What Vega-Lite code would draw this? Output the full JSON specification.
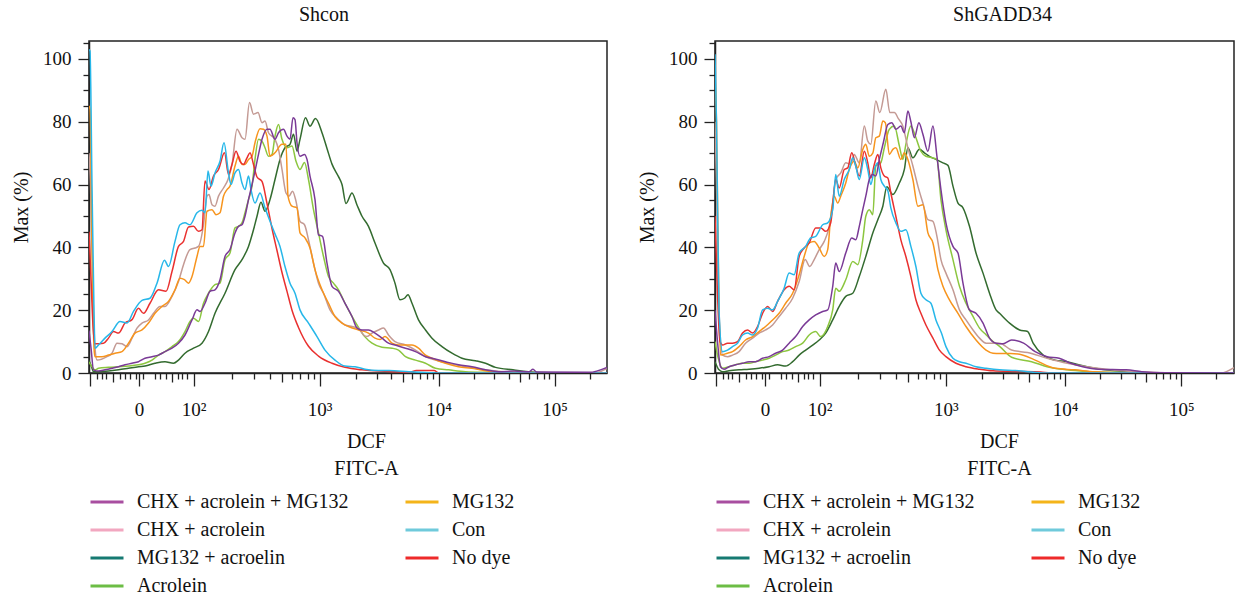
{
"$schema": "https://vega.github.io/schema/vega-lite/v6.json",
"padding": {"left": 10, "top": 4, "right": 0, "bottom": 0},
"config": {
 "font": "Liberation Serif, Times New Roman, Tinos, DejaVu Serif, serif",
 "view": {"stroke": "#222", "strokeWidth": 1.5},
 "axis": {"grid": false, "domainColor": "#222", "domainWidth": 1.5, "tickColor": "#222", "tickWidth": 1.3, "labelColor": "#111", "titleColor": "#111", "labelFont": "Liberation Serif, Times New Roman, Tinos, DejaVu Serif, serif", "titleFont": "Liberation Serif, Times New Roman, Tinos, DejaVu Serif, serif", "labelFontSize": 19, "titleFontSize": 20, "titleFontWeight": "normal"},
 "title": {"font": "Liberation Serif, Times New Roman, Tinos, DejaVu Serif, serif", "fontSize": 20, "fontWeight": "normal", "color": "#111"},
 "legend": {"labelFont": "Liberation Serif, Times New Roman, Tinos, DejaVu Serif, serif", "labelFontSize": 20, "labelColor": "#111"}
},
"datasets": {
"shcon": [
{"s":"MG132 + acroelin","c":0,"y":4},{"s":"MG132 + acroelin","c":5,"y":2},{"s":"MG132 + acroelin","c":9,"y":0.4},{"s":"MG132 + acroelin","c":19,"y":0.4},{"s":"MG132 + acroelin","c":39,"y":0.6},{"s":"MG132 + acroelin","c":59,"y":1.0},{"s":"MG132 + acroelin","c":79,"y":1.5},{"s":"MG132 + acroelin","c":99,"y":2.0},{"s":"MG132 + acroelin","c":112,"y":2.2},{"s":"MG132 + acroelin","c":132,"y":3.1},{"s":"MG132 + acroelin","c":152,"y":3.6},{"s":"MG132 + acroelin","c":169,"y":3.1},{"s":"MG132 + acroelin","c":179,"y":4.1},{"s":"MG132 + acroelin","c":192,"y":6.3},{"s":"MG132 + acroelin","c":209,"y":7.9},{"s":"MG132 + acroelin","c":226,"y":9.5},{"s":"MG132 + acroelin","c":239,"y":13.2},{"s":"MG132 + acroelin","c":252,"y":19.0},{"s":"MG132 + acroelin","c":272,"y":25.4},{"s":"MG132 + acroelin","c":292,"y":32.9},{"s":"MG132 + acroelin","c":306,"y":36.1},{"s":"MG132 + acroelin","c":319,"y":40.3},{"s":"MG132 + acroelin","c":329,"y":45.6},{"s":"MG132 + acroelin","c":336,"y":49.9},{"s":"MG132 + acroelin","c":344,"y":54.4},{"s":"MG132 + acroelin","c":352,"y":51.5},{"s":"MG132 + acroelin","c":362,"y":55.2},{"s":"MG132 + acroelin","c":372,"y":61.6},{"s":"MG132 + acroelin","c":382,"y":68.0},{"s":"MG132 + acroelin","c":392,"y":71.7},{"s":"MG132 + acroelin","c":402,"y":72.8},{"s":"MG132 + acroelin","c":409,"y":76.0},{"s":"MG132 + acroelin","c":416,"y":70.6},{"s":"MG132 + acroelin","c":422,"y":74.4},{"s":"MG132 + acroelin","c":433,"y":81.3},{"s":"MG132 + acroelin","c":442,"y":78.6},{"s":"MG132 + acroelin","c":453,"y":81.0},{"s":"MG132 + acroelin","c":466,"y":76.5},{"s":"MG132 + acroelin","c":476,"y":71.5},{"s":"MG132 + acroelin","c":486,"y":66.5},{"s":"MG132 + acroelin","c":499,"y":62.5},{"s":"MG132 + acroelin","c":506,"y":60},{"s":"MG132 + acroelin","c":514,"y":54},{"s":"MG132 + acroelin","c":526,"y":57.3},{"s":"MG132 + acroelin","c":536,"y":53.5},{"s":"MG132 + acroelin","c":546,"y":49.9},{"s":"MG132 + acroelin","c":559,"y":46.7},{"s":"MG132 + acroelin","c":572,"y":41.4},{"s":"MG132 + acroelin","c":589,"y":35.0},{"s":"MG132 + acroelin","c":602,"y":32.9},{"s":"MG132 + acroelin","c":612,"y":28.6},{"s":"MG132 + acroelin","c":622,"y":23.3},{"s":"MG132 + acroelin","c":631,"y":23.8},{"s":"MG132 + acroelin","c":638,"y":24.9},{"s":"MG132 + acroelin","c":646,"y":22.2},{"s":"MG132 + acroelin","c":659,"y":16.9},{"s":"MG132 + acroelin","c":673,"y":13.7},{"s":"MG132 + acroelin","c":686,"y":11.1},{"s":"MG132 + acroelin","c":706,"y":8.4},{"s":"MG132 + acroelin","c":726,"y":6.3},{"s":"MG132 + acroelin","c":746,"y":4.7},{"s":"MG132 + acroelin","c":773,"y":3.9},{"s":"MG132 + acroelin","c":793,"y":3.1},{"s":"MG132 + acroelin","c":813,"y":1.8},{"s":"MG132 + acroelin","c":848,"y":1.0},{"s":"MG132 + acroelin","c":879,"y":0.4},{"s":"MG132 + acroelin","c":920,"y":0.1},{"s":"MG132 + acroelin","c":1036,"y":0},
{"s":"Acrolein","c":0,"y":3.5},{"s":"Acrolein","c":6,"y":2},{"s":"Acrolein","c":12,"y":1.0},{"s":"Acrolein","c":19,"y":1.5},{"s":"Acrolein","c":39,"y":1.8},{"s":"Acrolein","c":59,"y":2.0},{"s":"Acrolein","c":79,"y":2.2},{"s":"Acrolein","c":99,"y":2.6},{"s":"Acrolein","c":112,"y":3.1},{"s":"Acrolein","c":126,"y":4.1},{"s":"Acrolein","c":139,"y":5.7},{"s":"Acrolein","c":152,"y":6.8},{"s":"Acrolein","c":166,"y":8.4},{"s":"Acrolein","c":179,"y":10.0},{"s":"Acrolein","c":192,"y":13.2},{"s":"Acrolein","c":202,"y":16.4},{"s":"Acrolein","c":209,"y":17.4},{"s":"Acrolein","c":219,"y":16.4},{"s":"Acrolein","c":229,"y":22.2},{"s":"Acrolein","c":239,"y":25.4},{"s":"Acrolein","c":252,"y":28.1},{"s":"Acrolein","c":262,"y":28.6},{"s":"Acrolein","c":272,"y":36.1},{"s":"Acrolein","c":282,"y":38.2},{"s":"Acrolein","c":292,"y":46.2},{"s":"Acrolein","c":299,"y":46.7},{"s":"Acrolein","c":306,"y":47.8},{"s":"Acrolein","c":312,"y":51.0},{"s":"Acrolein","c":319,"y":55.2},{"s":"Acrolein","c":326,"y":59.5},{"s":"Acrolein","c":332,"y":68.0},{"s":"Acrolein","c":339,"y":74.4},{"s":"Acrolein","c":346,"y":73.8},{"s":"Acrolein","c":352,"y":71.7},{"s":"Acrolein","c":359,"y":69.0},{"s":"Acrolein","c":366,"y":69.6},{"s":"Acrolein","c":372,"y":75.4},{"s":"Acrolein","c":379,"y":79.1},{"s":"Acrolein","c":386,"y":74.4},{"s":"Acrolein","c":396,"y":71.7},{"s":"Acrolein","c":406,"y":72.3},{"s":"Acrolein","c":414,"y":67.4},{"s":"Acrolein","c":422,"y":64.8},{"s":"Acrolein","c":431,"y":67.0},{"s":"Acrolein","c":439,"y":61.6},{"s":"Acrolein","c":449,"y":52},{"s":"Acrolein","c":459,"y":44.6},{"s":"Acrolein","c":469,"y":37.1},{"s":"Acrolein","c":479,"y":30.7},{"s":"Acrolein","c":489,"y":28.6},{"s":"Acrolein","c":499,"y":26.5},{"s":"Acrolein","c":512,"y":22.2},{"s":"Acrolein","c":526,"y":18.0},{"s":"Acrolein","c":539,"y":14.5},{"s":"Acrolein","c":552,"y":11.5},{"s":"Acrolein","c":566,"y":9.5},{"s":"Acrolein","c":586,"y":8.2},{"s":"Acrolein","c":606,"y":7.9},{"s":"Acrolein","c":619,"y":7.3},{"s":"Acrolein","c":633,"y":5.2},{"s":"Acrolein","c":653,"y":4.1},{"s":"Acrolein","c":673,"y":3.1},{"s":"Acrolein","c":693,"y":1.5},{"s":"Acrolein","c":719,"y":1.0},{"s":"Acrolein","c":753,"y":0.4},{"s":"Acrolein","c":800,"y":0.2},{"s":"Acrolein","c":900,"y":0},{"s":"Acrolein","c":1036,"y":0},
{"s":"CHX + acrolein","c":0,"y":70},{"s":"CHX + acrolein","c":3,"y":60},{"s":"CHX + acrolein","c":8,"y":25},{"s":"CHX + acrolein","c":12,"y":8},{"s":"CHX + acrolein","c":16,"y":4.1},{"s":"CHX + acrolein","c":36,"y":5.2},{"s":"CHX + acrolein","c":46,"y":6.3},{"s":"CHX + acrolein","c":56,"y":9.5},{"s":"CHX + acrolein","c":66,"y":9.3},{"s":"CHX + acrolein","c":76,"y":8.4},{"s":"CHX + acrolein","c":86,"y":11.1},{"s":"CHX + acrolein","c":96,"y":14.3},{"s":"CHX + acrolein","c":106,"y":15.9},{"s":"CHX + acrolein","c":119,"y":16.9},{"s":"CHX + acrolein","c":129,"y":19.0},{"s":"CHX + acrolein","c":142,"y":21.2},{"s":"CHX + acrolein","c":152,"y":21.2},{"s":"CHX + acrolein","c":166,"y":24.4},{"s":"CHX + acrolein","c":179,"y":29.1},{"s":"CHX + acrolein","c":189,"y":34.5},{"s":"CHX + acrolein","c":202,"y":39.3},{"s":"CHX + acrolein","c":212,"y":39.8},{"s":"CHX + acrolein","c":219,"y":40.3},{"s":"CHX + acrolein","c":229,"y":47.2},{"s":"CHX + acrolein","c":236,"y":56.3},{"s":"CHX + acrolein","c":240,"y":56.8},{"s":"CHX + acrolein","c":246,"y":53.6},{"s":"CHX + acrolein","c":252,"y":53.1},{"s":"CHX + acrolein","c":259,"y":56.3},{"s":"CHX + acrolein","c":269,"y":58.9},{"s":"CHX + acrolein","c":278,"y":61.6},{"s":"CHX + acrolein","c":286,"y":66.4},{"s":"CHX + acrolein","c":296,"y":77.6},{"s":"CHX + acrolein","c":306,"y":74.9},{"s":"CHX + acrolein","c":312,"y":74.4},{"s":"CHX + acrolein","c":321,"y":86.1},{"s":"CHX + acrolein","c":329,"y":82.4},{"s":"CHX + acrolein","c":338,"y":82.9},{"s":"CHX + acrolein","c":346,"y":79.7},{"s":"CHX + acrolein","c":352,"y":80.2},{"s":"CHX + acrolein","c":359,"y":76.5},{"s":"CHX + acrolein","c":372,"y":74.4},{"s":"CHX + acrolein","c":379,"y":71.2},{"s":"CHX + acrolein","c":386,"y":64.8},{"s":"CHX + acrolein","c":394,"y":57.3},{"s":"CHX + acrolein","c":400,"y":56.3},{"s":"CHX + acrolein","c":407,"y":57.9},{"s":"CHX + acrolein","c":414,"y":54.7},{"s":"CHX + acrolein","c":422,"y":48.3},{"s":"CHX + acrolein","c":431,"y":47.2},{"s":"CHX + acrolein","c":439,"y":42.4},{"s":"CHX + acrolein","c":449,"y":35.0},{"s":"CHX + acrolein","c":459,"y":28.6},{"s":"CHX + acrolein","c":469,"y":25.4},{"s":"CHX + acrolein","c":482,"y":20.1},{"s":"CHX + acrolein","c":496,"y":17.4},{"s":"CHX + acrolein","c":512,"y":15.3},{"s":"CHX + acrolein","c":526,"y":14.8},{"s":"CHX + acrolein","c":539,"y":14.3},{"s":"CHX + acrolein","c":549,"y":12.1},{"s":"CHX + acrolein","c":556,"y":11.6},{"s":"CHX + acrolein","c":566,"y":12.7},{"s":"CHX + acrolein","c":579,"y":13.7},{"s":"CHX + acrolein","c":589,"y":14.3},{"s":"CHX + acrolein","c":599,"y":12.1},{"s":"CHX + acrolein","c":612,"y":10.0},{"s":"CHX + acrolein","c":633,"y":8.9},{"s":"CHX + acrolein","c":653,"y":7.3},{"s":"CHX + acrolein","c":673,"y":5.2},{"s":"CHX + acrolein","c":693,"y":4.1},{"s":"CHX + acrolein","c":719,"y":3.1},{"s":"CHX + acrolein","c":753,"y":2.0},{"s":"CHX + acrolein","c":793,"y":1.0},{"s":"CHX + acrolein","c":848,"y":0.2},{"s":"CHX + acrolein","c":900,"y":0},{"s":"CHX + acrolein","c":1010,"y":0},{"s":"CHX + acrolein","c":1036,"y":1.5},
{"s":"MG132","c":0,"y":85},{"s":"MG132","c":2,"y":84},{"s":"MG132","c":6,"y":40},{"s":"MG132","c":10,"y":8},{"s":"MG132","c":12,"y":5.2},{"s":"MG132","c":26,"y":5.2},{"s":"MG132","c":39,"y":5.7},{"s":"MG132","c":52,"y":6.3},{"s":"MG132","c":66,"y":6.8},{"s":"MG132","c":79,"y":9.5},{"s":"MG132","c":92,"y":12.7},{"s":"MG132","c":106,"y":13.7},{"s":"MG132","c":119,"y":15.9},{"s":"MG132","c":132,"y":19.0},{"s":"MG132","c":146,"y":21.2},{"s":"MG132","c":159,"y":22.8},{"s":"MG132","c":172,"y":26.5},{"s":"MG132","c":182,"y":30.2},{"s":"MG132","c":191,"y":29.7},{"s":"MG132","c":199,"y":28.6},{"s":"MG132","c":206,"y":30.7},{"s":"MG132","c":216,"y":37.1},{"s":"MG132","c":222,"y":40.3},{"s":"MG132","c":229,"y":40.3},{"s":"MG132","c":236,"y":51.5},{"s":"MG132","c":246,"y":52.0},{"s":"MG132","c":254,"y":50.4},{"s":"MG132","c":262,"y":51.0},{"s":"MG132","c":269,"y":56.3},{"s":"MG132","c":276,"y":58.4},{"s":"MG132","c":282,"y":59.5},{"s":"MG132","c":292,"y":65.9},{"s":"MG132","c":299,"y":69.0},{"s":"MG132","c":306,"y":66.4},{"s":"MG132","c":312,"y":66.4},{"s":"MG132","c":319,"y":68.0},{"s":"MG132","c":326,"y":69.0},{"s":"MG132","c":332,"y":73.3},{"s":"MG132","c":342,"y":77.8},{"s":"MG132","c":349,"y":77.6},{"s":"MG132","c":356,"y":75.4},{"s":"MG132","c":362,"y":69.0},{"s":"MG132","c":372,"y":70.1},{"s":"MG132","c":386,"y":72.8},{"s":"MG132","c":394,"y":72.8},{"s":"MG132","c":398,"y":56.3},{"s":"MG132","c":406,"y":53.1},{"s":"MG132","c":416,"y":52.6},{"s":"MG132","c":422,"y":44.6},{"s":"MG132","c":432,"y":43.0},{"s":"MG132","c":442,"y":39.8},{"s":"MG132","c":452,"y":32.9},{"s":"MG132","c":466,"y":26.5},{"s":"MG132","c":479,"y":22.2},{"s":"MG132","c":492,"y":18.0},{"s":"MG132","c":506,"y":15.9},{"s":"MG132","c":519,"y":14.8},{"s":"MG132","c":539,"y":13.7},{"s":"MG132","c":559,"y":12.7},{"s":"MG132","c":572,"y":11.1},{"s":"MG132","c":582,"y":10.7},{"s":"MG132","c":592,"y":11.6},{"s":"MG132","c":606,"y":9.5},{"s":"MG132","c":619,"y":8.9},{"s":"MG132","c":646,"y":8.9},{"s":"MG132","c":659,"y":7.9},{"s":"MG132","c":673,"y":5.7},{"s":"MG132","c":686,"y":4.7},{"s":"MG132","c":713,"y":3.1},{"s":"MG132","c":739,"y":2.0},{"s":"MG132","c":766,"y":1.5},{"s":"MG132","c":806,"y":0.4},{"s":"MG132","c":830,"y":0.3},{"s":"MG132","c":900,"y":0.1},{"s":"MG132","c":1036,"y":0},
{"s":"No dye","c":0,"y":45},{"s":"No dye","c":4,"y":30},{"s":"No dye","c":8,"y":15},{"s":"No dye","c":12,"y":9.3},{"s":"No dye","c":29,"y":9.5},{"s":"No dye","c":39,"y":11.1},{"s":"No dye","c":49,"y":13.2},{"s":"No dye","c":59,"y":12.7},{"s":"No dye","c":72,"y":15.9},{"s":"No dye","c":86,"y":17.0},{"s":"No dye","c":99,"y":20.6},{"s":"No dye","c":109,"y":19.0},{"s":"No dye","c":122,"y":22.2},{"s":"No dye","c":139,"y":26.5},{"s":"No dye","c":154,"y":26.0},{"s":"No dye","c":166,"y":32.3},{"s":"No dye","c":179,"y":40.3},{"s":"No dye","c":189,"y":41.9},{"s":"No dye","c":199,"y":46.5},{"s":"No dye","c":209,"y":46.7},{"s":"No dye","c":219,"y":45.1},{"s":"No dye","c":226,"y":45.6},{"s":"No dye","c":232,"y":61.1},{"s":"No dye","c":240,"y":58.4},{"s":"No dye","c":249,"y":62.7},{"s":"No dye","c":259,"y":64.8},{"s":"No dye","c":271,"y":70.1},{"s":"No dye","c":279,"y":63.2},{"s":"No dye","c":286,"y":66.4},{"s":"No dye","c":294,"y":70.6},{"s":"No dye","c":302,"y":67.4},{"s":"No dye","c":309,"y":66.4},{"s":"No dye","c":316,"y":68.5},{"s":"No dye","c":322,"y":70.1},{"s":"No dye","c":329,"y":66.4},{"s":"No dye","c":336,"y":62.4},{"s":"No dye","c":346,"y":61.0},{"s":"No dye","c":356,"y":54.0},{"s":"No dye","c":366,"y":46.0},{"s":"No dye","c":376,"y":39.0},{"s":"No dye","c":386,"y":32.0},{"s":"No dye","c":396,"y":26.0},{"s":"No dye","c":406,"y":20.0},{"s":"No dye","c":419,"y":14.5},{"s":"No dye","c":439,"y":8.5},{"s":"No dye","c":459,"y":5.4},{"s":"No dye","c":486,"y":3.1},{"s":"No dye","c":512,"y":1.8},{"s":"No dye","c":546,"y":1.0},{"s":"No dye","c":579,"y":0.6},{"s":"No dye","c":600,"y":0.5},{"s":"No dye","c":640,"y":0.2},{"s":"No dye","c":655,"y":0.8},{"s":"No dye","c":690,"y":0.8},{"s":"No dye","c":700,"y":0},{"s":"No dye","c":1036,"y":0},
{"s":"Con","c":0,"y":103},{"s":"Con","c":2,"y":102.5},{"s":"Con","c":6,"y":60},{"s":"Con","c":10,"y":20},{"s":"Con","c":12,"y":7.9},{"s":"Con","c":19,"y":8.9},{"s":"Con","c":32,"y":11.1},{"s":"Con","c":46,"y":13.2},{"s":"Con","c":62,"y":16.4},{"s":"Con","c":76,"y":15.9},{"s":"Con","c":89,"y":19.6},{"s":"Con","c":106,"y":23.1},{"s":"Con","c":122,"y":23.8},{"s":"Con","c":136,"y":28.6},{"s":"Con","c":151,"y":35.9},{"s":"Con","c":159,"y":33.9},{"s":"Con","c":172,"y":41.9},{"s":"Con","c":182,"y":47.2},{"s":"Con","c":192,"y":47.8},{"s":"Con","c":202,"y":47.2},{"s":"Con","c":216,"y":51.0},{"s":"Con","c":226,"y":51.8},{"s":"Con","c":232,"y":51.0},{"s":"Con","c":238,"y":64.3},{"s":"Con","c":244,"y":59.5},{"s":"Con","c":252,"y":63.7},{"s":"Con","c":262,"y":67.4},{"s":"Con","c":270,"y":73.3},{"s":"Con","c":279,"y":63.7},{"s":"Con","c":284,"y":60.0},{"s":"Con","c":292,"y":63.7},{"s":"Con","c":299,"y":64.8},{"s":"Con","c":306,"y":60.5},{"s":"Con","c":312,"y":58.4},{"s":"Con","c":319,"y":62.7},{"s":"Con","c":324,"y":58.4},{"s":"Con","c":332,"y":54.1},{"s":"Con","c":342,"y":57.3},{"s":"Con","c":352,"y":52.6},{"s":"Con","c":362,"y":48.3},{"s":"Con","c":372,"y":44.3},{"s":"Con","c":382,"y":40.3},{"s":"Con","c":392,"y":33.9},{"s":"Con","c":402,"y":28.6},{"s":"Con","c":412,"y":25.4},{"s":"Con","c":422,"y":20.1},{"s":"Con","c":439,"y":15.9},{"s":"Con","c":456,"y":11.6},{"s":"Con","c":472,"y":7.3},{"s":"Con","c":492,"y":4.1},{"s":"Con","c":512,"y":2.2},{"s":"Con","c":532,"y":2.0},{"s":"Con","c":552,"y":1.2},{"s":"Con","c":579,"y":0.8},{"s":"Con","c":600,"y":0.8},{"s":"Con","c":640,"y":0.4},{"s":"Con","c":680,"y":0.1},{"s":"Con","c":700,"y":0},{"s":"Con","c":1036,"y":0},
{"s":"CHX + acrolein + MG132","c":0,"y":13.5},{"s":"CHX + acrolein + MG132","c":4,"y":8},{"s":"CHX + acrolein + MG132","c":9,"y":1.0},{"s":"CHX + acrolein + MG132","c":19,"y":0.6},{"s":"CHX + acrolein + MG132","c":32,"y":1.0},{"s":"CHX + acrolein + MG132","c":46,"y":1.5},{"s":"CHX + acrolein + MG132","c":59,"y":2.0},{"s":"CHX + acrolein + MG132","c":72,"y":2.6},{"s":"CHX + acrolein + MG132","c":86,"y":3.1},{"s":"CHX + acrolein + MG132","c":99,"y":3.6},{"s":"CHX + acrolein + MG132","c":112,"y":4.7},{"s":"CHX + acrolein + MG132","c":126,"y":5.2},{"s":"CHX + acrolein + MG132","c":139,"y":5.7},{"s":"CHX + acrolein + MG132","c":152,"y":6.8},{"s":"CHX + acrolein + MG132","c":166,"y":7.9},{"s":"CHX + acrolein + MG132","c":179,"y":9.5},{"s":"CHX + acrolein + MG132","c":192,"y":12.1},{"s":"CHX + acrolein + MG132","c":206,"y":16.9},{"s":"CHX + acrolein + MG132","c":216,"y":20.1},{"s":"CHX + acrolein + MG132","c":222,"y":19.6},{"s":"CHX + acrolein + MG132","c":232,"y":22.2},{"s":"CHX + acrolein + MG132","c":242,"y":26.0},{"s":"CHX + acrolein + MG132","c":252,"y":26.5},{"s":"CHX + acrolein + MG132","c":262,"y":29.7},{"s":"CHX + acrolein + MG132","c":272,"y":37.1},{"s":"CHX + acrolein + MG132","c":282,"y":39.3},{"s":"CHX + acrolein + MG132","c":292,"y":44.6},{"s":"CHX + acrolein + MG132","c":299,"y":46.7},{"s":"CHX + acrolein + MG132","c":306,"y":47.2},{"s":"CHX + acrolein + MG132","c":312,"y":49.9},{"s":"CHX + acrolein + MG132","c":319,"y":55.2},{"s":"CHX + acrolein + MG132","c":326,"y":60.0},{"s":"CHX + acrolein + MG132","c":332,"y":64.3},{"s":"CHX + acrolein + MG132","c":339,"y":69.6},{"s":"CHX + acrolein + MG132","c":346,"y":74.4},{"s":"CHX + acrolein + MG132","c":356,"y":77.6},{"s":"CHX + acrolein + MG132","c":362,"y":77.6},{"s":"CHX + acrolein + MG132","c":372,"y":74.4},{"s":"CHX + acrolein + MG132","c":379,"y":76.5},{"s":"CHX + acrolein + MG132","c":389,"y":77.6},{"s":"CHX + acrolein + MG132","c":396,"y":75.4},{"s":"CHX + acrolein + MG132","c":402,"y":74.4},{"s":"CHX + acrolein + MG132","c":408,"y":81.3},{"s":"CHX + acrolein + MG132","c":412,"y":80.7},{"s":"CHX + acrolein + MG132","c":416,"y":73.3},{"s":"CHX + acrolein + MG132","c":422,"y":69.0},{"s":"CHX + acrolein + MG132","c":431,"y":69.6},{"s":"CHX + acrolein + MG132","c":436,"y":68.0},{"s":"CHX + acrolein + MG132","c":442,"y":62.7},{"s":"CHX + acrolein + MG132","c":452,"y":55.2},{"s":"CHX + acrolein + MG132","c":459,"y":44.0},{"s":"CHX + acrolein + MG132","c":467,"y":43.5},{"s":"CHX + acrolein + MG132","c":476,"y":35.0},{"s":"CHX + acrolein + MG132","c":486,"y":27.6},{"s":"CHX + acrolein + MG132","c":499,"y":26.0},{"s":"CHX + acrolein + MG132","c":512,"y":22.2},{"s":"CHX + acrolein + MG132","c":526,"y":18.0},{"s":"CHX + acrolein + MG132","c":536,"y":14.3},{"s":"CHX + acrolein + MG132","c":546,"y":13.7},{"s":"CHX + acrolein + MG132","c":559,"y":13.7},{"s":"CHX + acrolein + MG132","c":572,"y":12.7},{"s":"CHX + acrolein + MG132","c":586,"y":11.1},{"s":"CHX + acrolein + MG132","c":599,"y":9.5},{"s":"CHX + acrolein + MG132","c":612,"y":8.9},{"s":"CHX + acrolein + MG132","c":633,"y":7.9},{"s":"CHX + acrolein + MG132","c":653,"y":6.8},{"s":"CHX + acrolein + MG132","c":673,"y":5.2},{"s":"CHX + acrolein + MG132","c":686,"y":4.7},{"s":"CHX + acrolein + MG132","c":713,"y":3.6},{"s":"CHX + acrolein + MG132","c":739,"y":2.6},{"s":"CHX + acrolein + MG132","c":766,"y":2.0},{"s":"CHX + acrolein + MG132","c":793,"y":1.0},{"s":"CHX + acrolein + MG132","c":819,"y":0.4},{"s":"CHX + acrolein + MG132","c":850,"y":0.6},{"s":"CHX + acrolein + MG132","c":880,"y":0.4},{"s":"CHX + acrolein + MG132","c":888,"y":1.2},{"s":"CHX + acrolein + MG132","c":895,"y":0.3},{"s":"CHX + acrolein + MG132","c":1000,"y":0.2},{"s":"CHX + acrolein + MG132","c":1036,"y":1.8}
],
"shgadd34": [
{"s":"MG132 + acroelin","c":0,"y":3.6},{"s":"MG132 + acroelin","c":8,"y":1},{"s":"MG132 + acroelin","c":15,"y":0.4},{"s":"MG132 + acroelin","c":28,"y":0.7},{"s":"MG132 + acroelin","c":48,"y":1.0},{"s":"MG132 + acroelin","c":68,"y":1.2},{"s":"MG132 + acroelin","c":88,"y":1.5},{"s":"MG132 + acroelin","c":108,"y":2.0},{"s":"MG132 + acroelin","c":125,"y":2.6},{"s":"MG132 + acroelin","c":141,"y":2.2},{"s":"MG132 + acroelin","c":155,"y":3.6},{"s":"MG132 + acroelin","c":168,"y":5.7},{"s":"MG132 + acroelin","c":181,"y":7.3},{"s":"MG132 + acroelin","c":195,"y":8.9},{"s":"MG132 + acroelin","c":208,"y":10.5},{"s":"MG132 + acroelin","c":221,"y":12.7},{"s":"MG132 + acroelin","c":235,"y":16.9},{"s":"MG132 + acroelin","c":248,"y":21.2},{"s":"MG132 + acroelin","c":261,"y":24.4},{"s":"MG132 + acroelin","c":275,"y":25.4},{"s":"MG132 + acroelin","c":288,"y":30.7},{"s":"MG132 + acroelin","c":301,"y":37.1},{"s":"MG132 + acroelin","c":315,"y":44.6},{"s":"MG132 + acroelin","c":325,"y":48.8},{"s":"MG132 + acroelin","c":335,"y":53.1},{"s":"MG132 + acroelin","c":343,"y":59.3},{"s":"MG132 + acroelin","c":355,"y":56.8},{"s":"MG132 + acroelin","c":368,"y":60.5},{"s":"MG132 + acroelin","c":378,"y":64.8},{"s":"MG132 + acroelin","c":385,"y":71.7},{"s":"MG132 + acroelin","c":395,"y":68.5},{"s":"MG132 + acroelin","c":408,"y":71.2},{"s":"MG132 + acroelin","c":418,"y":70.1},{"s":"MG132 + acroelin","c":428,"y":69.0},{"s":"MG132 + acroelin","c":441,"y":68.0},{"s":"MG132 + acroelin","c":455,"y":66.9},{"s":"MG132 + acroelin","c":465,"y":66.1},{"s":"MG132 + acroelin","c":475,"y":59.5},{"s":"MG132 + acroelin","c":485,"y":54.1},{"s":"MG132 + acroelin","c":495,"y":52.6},{"s":"MG132 + acroelin","c":508,"y":46.7},{"s":"MG132 + acroelin","c":521,"y":38.2},{"s":"MG132 + acroelin","c":535,"y":31.8},{"s":"MG132 + acroelin","c":548,"y":25.4},{"s":"MG132 + acroelin","c":561,"y":20.1},{"s":"MG132 + acroelin","c":568,"y":19.0},{"s":"MG132 + acroelin","c":588,"y":15.9},{"s":"MG132 + acroelin","c":608,"y":13.7},{"s":"MG132 + acroelin","c":624,"y":13.2},{"s":"MG132 + acroelin","c":635,"y":9.5},{"s":"MG132 + acroelin","c":655,"y":5.7},{"s":"MG132 + acroelin","c":679,"y":4.1},{"s":"MG132 + acroelin","c":703,"y":3.6},{"s":"MG132 + acroelin","c":726,"y":2.6},{"s":"MG132 + acroelin","c":758,"y":1.5},{"s":"MG132 + acroelin","c":797,"y":0.7},{"s":"MG132 + acroelin","c":850,"y":0.1},{"s":"MG132 + acroelin","c":1036,"y":0},
{"s":"Acrolein","c":0,"y":10},{"s":"Acrolein","c":6,"y":5},{"s":"Acrolein","c":15,"y":1.5},{"s":"Acrolein","c":28,"y":2.0},{"s":"Acrolein","c":41,"y":2.6},{"s":"Acrolein","c":55,"y":3.1},{"s":"Acrolein","c":68,"y":3.1},{"s":"Acrolein","c":81,"y":3.6},{"s":"Acrolein","c":95,"y":4.1},{"s":"Acrolein","c":108,"y":4.7},{"s":"Acrolein","c":121,"y":5.7},{"s":"Acrolein","c":135,"y":6.8},{"s":"Acrolein","c":148,"y":7.3},{"s":"Acrolein","c":161,"y":8.4},{"s":"Acrolein","c":175,"y":9.5},{"s":"Acrolein","c":188,"y":12.1},{"s":"Acrolein","c":201,"y":13.2},{"s":"Acrolein","c":211,"y":11.6},{"s":"Acrolein","c":225,"y":14.8},{"s":"Acrolein","c":235,"y":20.1},{"s":"Acrolein","c":241,"y":27.0},{"s":"Acrolein","c":248,"y":26.0},{"s":"Acrolein","c":261,"y":29.7},{"s":"Acrolein","c":275,"y":35.5},{"s":"Acrolein","c":285,"y":34.5},{"s":"Acrolein","c":295,"y":42.4},{"s":"Acrolein","c":301,"y":49.9},{"s":"Acrolein","c":308,"y":52.0},{"s":"Acrolein","c":315,"y":50.4},{"s":"Acrolein","c":321,"y":65.9},{"s":"Acrolein","c":331,"y":66.9},{"s":"Acrolein","c":338,"y":71.7},{"s":"Acrolein","c":348,"y":77.6},{"s":"Acrolein","c":358,"y":78.6},{"s":"Acrolein","c":368,"y":72.3},{"s":"Acrolein","c":375,"y":68.0},{"s":"Acrolein","c":381,"y":72.8},{"s":"Acrolein","c":391,"y":78.6},{"s":"Acrolein","c":400,"y":75.4},{"s":"Acrolein","c":411,"y":70.6},{"s":"Acrolein","c":421,"y":69.0},{"s":"Acrolein","c":435,"y":68.5},{"s":"Acrolein","c":443,"y":68.0},{"s":"Acrolein","c":451,"y":55.2},{"s":"Acrolein","c":461,"y":45.6},{"s":"Acrolein","c":475,"y":36.1},{"s":"Acrolein","c":488,"y":27.6},{"s":"Acrolein","c":501,"y":22.2},{"s":"Acrolein","c":515,"y":18.0},{"s":"Acrolein","c":528,"y":14.3},{"s":"Acrolein","c":541,"y":12.2},{"s":"Acrolein","c":555,"y":10},{"s":"Acrolein","c":568,"y":8.5},{"s":"Acrolein","c":592,"y":5.0},{"s":"Acrolein","c":632,"y":3.6},{"s":"Acrolein","c":663,"y":2.0},{"s":"Acrolein","c":703,"y":1.0},{"s":"Acrolein","c":740,"y":0.5},{"s":"Acrolein","c":800,"y":0.2},{"s":"Acrolein","c":850,"y":0},{"s":"Acrolein","c":1036,"y":0},
{"s":"CHX + acrolein","c":0,"y":80},{"s":"CHX + acrolein","c":3,"y":60},{"s":"CHX + acrolein","c":8,"y":20},{"s":"CHX + acrolein","c":15,"y":5.7},{"s":"CHX + acrolein","c":25,"y":5.2},{"s":"CHX + acrolein","c":35,"y":5.7},{"s":"CHX + acrolein","c":48,"y":6.8},{"s":"CHX + acrolein","c":61,"y":9.5},{"s":"CHX + acrolein","c":75,"y":11.1},{"s":"CHX + acrolein","c":88,"y":12.7},{"s":"CHX + acrolein","c":101,"y":13.7},{"s":"CHX + acrolein","c":115,"y":15.3},{"s":"CHX + acrolein","c":128,"y":18.0},{"s":"CHX + acrolein","c":141,"y":20.6},{"s":"CHX + acrolein","c":155,"y":23.8},{"s":"CHX + acrolein","c":168,"y":29.1},{"s":"CHX + acrolein","c":180,"y":36.1},{"s":"CHX + acrolein","c":189,"y":33.9},{"s":"CHX + acrolein","c":198,"y":36.1},{"s":"CHX + acrolein","c":208,"y":39.3},{"s":"CHX + acrolein","c":218,"y":41.9},{"s":"CHX + acrolein","c":228,"y":46.7},{"s":"CHX + acrolein","c":235,"y":54.1},{"s":"CHX + acrolein","c":241,"y":61.6},{"s":"CHX + acrolein","c":251,"y":63.7},{"s":"CHX + acrolein","c":261,"y":66.9},{"s":"CHX + acrolein","c":271,"y":66.4},{"s":"CHX + acrolein","c":278,"y":69.6},{"s":"CHX + acrolein","c":288,"y":66.9},{"s":"CHX + acrolein","c":298,"y":78.6},{"s":"CHX + acrolein","c":305,"y":73.8},{"s":"CHX + acrolein","c":311,"y":72.8},{"s":"CHX + acrolein","c":321,"y":86.6},{"s":"CHX + acrolein","c":329,"y":82.9},{"s":"CHX + acrolein","c":341,"y":90.3},{"s":"CHX + acrolein","c":349,"y":82.9},{"s":"CHX + acrolein","c":358,"y":82.9},{"s":"CHX + acrolein","c":366,"y":81},{"s":"CHX + acrolein","c":375,"y":78.6},{"s":"CHX + acrolein","c":385,"y":71.7},{"s":"CHX + acrolein","c":395,"y":65.9},{"s":"CHX + acrolein","c":405,"y":59.5},{"s":"CHX + acrolein","c":415,"y":54.1},{"s":"CHX + acrolein","c":425,"y":48.8},{"s":"CHX + acrolein","c":435,"y":48.3},{"s":"CHX + acrolein","c":443,"y":43.5},{"s":"CHX + acrolein","c":451,"y":36.1},{"s":"CHX + acrolein","c":461,"y":31.8},{"s":"CHX + acrolein","c":475,"y":26.5},{"s":"CHX + acrolein","c":488,"y":20.1},{"s":"CHX + acrolein","c":501,"y":16.9},{"s":"CHX + acrolein","c":515,"y":13.7},{"s":"CHX + acrolein","c":528,"y":11.1},{"s":"CHX + acrolein","c":541,"y":9.5},{"s":"CHX + acrolein","c":555,"y":9.5},{"s":"CHX + acrolein","c":568,"y":9.5},{"s":"CHX + acrolein","c":592,"y":7.3},{"s":"CHX + acrolein","c":624,"y":6.5},{"s":"CHX + acrolein","c":663,"y":4.7},{"s":"CHX + acrolein","c":703,"y":3.1},{"s":"CHX + acrolein","c":742,"y":2.0},{"s":"CHX + acrolein","c":781,"y":1.2},{"s":"CHX + acrolein","c":821,"y":0.6},{"s":"CHX + acrolein","c":852,"y":0.4},{"s":"CHX + acrolein","c":900,"y":0},{"s":"CHX + acrolein","c":1010,"y":0},{"s":"CHX + acrolein","c":1036,"y":1.7},
{"s":"MG132","c":0,"y":95},{"s":"MG132","c":3,"y":80},{"s":"MG132","c":8,"y":20},{"s":"MG132","c":11,"y":5.7},{"s":"MG132","c":25,"y":6.3},{"s":"MG132","c":35,"y":6.8},{"s":"MG132","c":48,"y":8.4},{"s":"MG132","c":61,"y":10.5},{"s":"MG132","c":75,"y":11.6},{"s":"MG132","c":88,"y":13.2},{"s":"MG132","c":101,"y":14.8},{"s":"MG132","c":115,"y":16.9},{"s":"MG132","c":128,"y":19.0},{"s":"MG132","c":141,"y":22.2},{"s":"MG132","c":155,"y":25.4},{"s":"MG132","c":168,"y":31.3},{"s":"MG132","c":178,"y":37.1},{"s":"MG132","c":188,"y":41.4},{"s":"MG132","c":198,"y":41.9},{"s":"MG132","c":208,"y":39.8},{"s":"MG132","c":218,"y":37.1},{"s":"MG132","c":225,"y":39.3},{"s":"MG132","c":231,"y":49.9},{"s":"MG132","c":238,"y":56.3},{"s":"MG132","c":245,"y":54.1},{"s":"MG132","c":251,"y":56.3},{"s":"MG132","c":261,"y":60.5},{"s":"MG132","c":268,"y":64.8},{"s":"MG132","c":278,"y":67.4},{"s":"MG132","c":285,"y":65.3},{"s":"MG132","c":295,"y":71.2},{"s":"MG132","c":301,"y":72.8},{"s":"MG132","c":308,"y":69.0},{"s":"MG132","c":315,"y":70},{"s":"MG132","c":321,"y":74.9},{"s":"MG132","c":328,"y":75.4},{"s":"MG132","c":335,"y":80.2},{"s":"MG132","c":340,"y":79.7},{"s":"MG132","c":348,"y":69.6},{"s":"MG132","c":355,"y":71.2},{"s":"MG132","c":361,"y":71.7},{"s":"MG132","c":371,"y":68.0},{"s":"MG132","c":378,"y":70.1},{"s":"MG132","c":385,"y":68.0},{"s":"MG132","c":395,"y":61.6},{"s":"MG132","c":405,"y":53.1},{"s":"MG132","c":415,"y":53.6},{"s":"MG132","c":425,"y":44.6},{"s":"MG132","c":435,"y":41.4},{"s":"MG132","c":445,"y":32.9},{"s":"MG132","c":455,"y":27.6},{"s":"MG132","c":468,"y":23.3},{"s":"MG132","c":485,"y":19.0},{"s":"MG132","c":501,"y":14.8},{"s":"MG132","c":521,"y":10.5},{"s":"MG132","c":541,"y":7.3},{"s":"MG132","c":555,"y":6.3},{"s":"MG132","c":568,"y":6.2},{"s":"MG132","c":590,"y":6.2},{"s":"MG132","c":608,"y":6.0},{"s":"MG132","c":639,"y":4.1},{"s":"MG132","c":679,"y":1.5},{"s":"MG132","c":718,"y":1.0},{"s":"MG132","c":758,"y":0.4},{"s":"MG132","c":800,"y":0.1},{"s":"MG132","c":850,"y":0},{"s":"MG132","c":1036,"y":0},
{"s":"No dye","c":0,"y":50},{"s":"No dye","c":5,"y":25},{"s":"No dye","c":10,"y":10},{"s":"No dye","c":15,"y":8.9},{"s":"No dye","c":25,"y":9.5},{"s":"No dye","c":35,"y":9.5},{"s":"No dye","c":45,"y":10.0},{"s":"No dye","c":55,"y":12.7},{"s":"No dye","c":65,"y":13.7},{"s":"No dye","c":75,"y":12.7},{"s":"No dye","c":85,"y":14.8},{"s":"No dye","c":95,"y":19.0},{"s":"No dye","c":105,"y":21.2},{"s":"No dye","c":115,"y":19.6},{"s":"No dye","c":125,"y":22.8},{"s":"No dye","c":138,"y":26.5},{"s":"No dye","c":148,"y":27.6},{"s":"No dye","c":158,"y":26.5},{"s":"No dye","c":168,"y":37.1},{"s":"No dye","c":178,"y":39.8},{"s":"No dye","c":188,"y":41.4},{"s":"No dye","c":201,"y":46.2},{"s":"No dye","c":211,"y":46.2},{"s":"No dye","c":221,"y":45.1},{"s":"No dye","c":231,"y":47.8},{"s":"No dye","c":241,"y":61.6},{"s":"No dye","c":248,"y":58.9},{"s":"No dye","c":258,"y":64.8},{"s":"No dye","c":265,"y":65.3},{"s":"No dye","c":273,"y":70.1},{"s":"No dye","c":281,"y":65.9},{"s":"No dye","c":288,"y":62.7},{"s":"No dye","c":298,"y":70.6},{"s":"No dye","c":305,"y":66.9},{"s":"No dye","c":311,"y":62.1},{"s":"No dye","c":318,"y":66.4},{"s":"No dye","c":325,"y":69.6},{"s":"No dye","c":331,"y":65.3},{"s":"No dye","c":338,"y":62.7},{"s":"No dye","c":345,"y":62.1},{"s":"No dye","c":351,"y":57.3},{"s":"No dye","c":361,"y":49.9},{"s":"No dye","c":371,"y":42.4},{"s":"No dye","c":381,"y":37.1},{"s":"No dye","c":391,"y":30.7},{"s":"No dye","c":401,"y":23.3},{"s":"No dye","c":411,"y":19.0},{"s":"No dye","c":421,"y":15.3},{"s":"No dye","c":435,"y":11.1},{"s":"No dye","c":448,"y":7.3},{"s":"No dye","c":461,"y":5.2},{"s":"No dye","c":481,"y":3.1},{"s":"No dye","c":501,"y":2.0},{"s":"No dye","c":528,"y":1.2},{"s":"No dye","c":555,"y":0.7},{"s":"No dye","c":600,"y":0.5},{"s":"No dye","c":650,"y":0.3},{"s":"No dye","c":670,"y":0},{"s":"No dye","c":1036,"y":0},
{"s":"Con","c":0,"y":101.5},{"s":"Con","c":3,"y":80},{"s":"Con","c":8,"y":20},{"s":"Con","c":15,"y":6.8},{"s":"Con","c":25,"y":7.3},{"s":"Con","c":35,"y":8.4},{"s":"Con","c":45,"y":9.5},{"s":"Con","c":55,"y":12.1},{"s":"Con","c":65,"y":12.7},{"s":"Con","c":75,"y":12.1},{"s":"Con","c":85,"y":14.3},{"s":"Con","c":95,"y":20.1},{"s":"Con","c":105,"y":20.6},{"s":"Con","c":115,"y":20.1},{"s":"Con","c":125,"y":22.8},{"s":"Con","c":138,"y":27.0},{"s":"Con","c":148,"y":31.8},{"s":"Con","c":158,"y":31.3},{"s":"Con","c":168,"y":38.2},{"s":"Con","c":181,"y":40.3},{"s":"Con","c":191,"y":43.0},{"s":"Con","c":201,"y":43.5},{"s":"Con","c":215,"y":47.2},{"s":"Con","c":225,"y":47.8},{"s":"Con","c":235,"y":52.0},{"s":"Con","c":241,"y":63.2},{"s":"Con","c":248,"y":56.3},{"s":"Con","c":258,"y":61.6},{"s":"Con","c":268,"y":64.8},{"s":"Con","c":275,"y":68.5},{"s":"Con","c":281,"y":65.9},{"s":"Con","c":288,"y":61.6},{"s":"Con","c":298,"y":68.5},{"s":"Con","c":305,"y":64.8},{"s":"Con","c":311,"y":60.0},{"s":"Con","c":318,"y":64.8},{"s":"Con","c":325,"y":66.9},{"s":"Con","c":331,"y":61.6},{"s":"Con","c":338,"y":59.5},{"s":"Con","c":345,"y":58},{"s":"Con","c":351,"y":52.6},{"s":"Con","c":361,"y":47.8},{"s":"Con","c":371,"y":45.1},{"s":"Con","c":381,"y":45.6},{"s":"Con","c":391,"y":40.3},{"s":"Con","c":401,"y":33.9},{"s":"Con","c":411,"y":25.4},{"s":"Con","c":421,"y":23.3},{"s":"Con","c":431,"y":22.2},{"s":"Con","c":441,"y":16.9},{"s":"Con","c":452,"y":12.7},{"s":"Con","c":461,"y":8.4},{"s":"Con","c":475,"y":4.7},{"s":"Con","c":488,"y":3.6},{"s":"Con","c":501,"y":3.1},{"s":"Con","c":521,"y":2.0},{"s":"Con","c":541,"y":1.5},{"s":"Con","c":568,"y":1.0},{"s":"Con","c":600,"y":0.8},{"s":"Con","c":620,"y":0.5},{"s":"Con","c":660,"y":0},{"s":"Con","c":1036,"y":0},
{"s":"CHX + acrolein + MG132","c":0,"y":20},{"s":"CHX + acrolein + MG132","c":5,"y":10},{"s":"CHX + acrolein + MG132","c":11,"y":2.0},{"s":"CHX + acrolein + MG132","c":18,"y":1.2},{"s":"CHX + acrolein + MG132","c":28,"y":2.0},{"s":"CHX + acrolein + MG132","c":41,"y":2.6},{"s":"CHX + acrolein + MG132","c":55,"y":3.1},{"s":"CHX + acrolein + MG132","c":68,"y":3.6},{"s":"CHX + acrolein + MG132","c":81,"y":3.6},{"s":"CHX + acrolein + MG132","c":95,"y":4.7},{"s":"CHX + acrolein + MG132","c":108,"y":5.2},{"s":"CHX + acrolein + MG132","c":121,"y":6.3},{"s":"CHX + acrolein + MG132","c":135,"y":7.3},{"s":"CHX + acrolein + MG132","c":148,"y":9.5},{"s":"CHX + acrolein + MG132","c":161,"y":11.6},{"s":"CHX + acrolein + MG132","c":175,"y":14.8},{"s":"CHX + acrolein + MG132","c":188,"y":16.9},{"s":"CHX + acrolein + MG132","c":201,"y":18.5},{"s":"CHX + acrolein + MG132","c":215,"y":19.6},{"s":"CHX + acrolein + MG132","c":225,"y":20.1},{"s":"CHX + acrolein + MG132","c":235,"y":27.6},{"s":"CHX + acrolein + MG132","c":241,"y":35.0},{"s":"CHX + acrolein + MG132","c":248,"y":32.3},{"s":"CHX + acrolein + MG132","c":261,"y":38.2},{"s":"CHX + acrolein + MG132","c":273,"y":43.0},{"s":"CHX + acrolein + MG132","c":281,"y":42.4},{"s":"CHX + acrolein + MG132","c":288,"y":46.7},{"s":"CHX + acrolein + MG132","c":295,"y":52.0},{"s":"CHX + acrolein + MG132","c":301,"y":56.3},{"s":"CHX + acrolein + MG132","c":308,"y":61.6},{"s":"CHX + acrolein + MG132","c":315,"y":63.2},{"s":"CHX + acrolein + MG132","c":321,"y":62.7},{"s":"CHX + acrolein + MG132","c":328,"y":68.0},{"s":"CHX + acrolein + MG132","c":336,"y":73.3},{"s":"CHX + acrolein + MG132","c":345,"y":79.1},{"s":"CHX + acrolein + MG132","c":353,"y":79.7},{"s":"CHX + acrolein + MG132","c":361,"y":77.6},{"s":"CHX + acrolein + MG132","c":371,"y":78.6},{"s":"CHX + acrolein + MG132","c":378,"y":76.5},{"s":"CHX + acrolein + MG132","c":385,"y":83.4},{"s":"CHX + acrolein + MG132","c":391,"y":80},{"s":"CHX + acrolein + MG132","c":398,"y":74.9},{"s":"CHX + acrolein + MG132","c":407,"y":79.7},{"s":"CHX + acrolein + MG132","c":415,"y":76.0},{"s":"CHX + acrolein + MG132","c":425,"y":70.6},{"s":"CHX + acrolein + MG132","c":435,"y":78.6},{"s":"CHX + acrolein + MG132","c":443,"y":69.0},{"s":"CHX + acrolein + MG132","c":451,"y":58.4},{"s":"CHX + acrolein + MG132","c":461,"y":47.8},{"s":"CHX + acrolein + MG132","c":475,"y":40.3},{"s":"CHX + acrolein + MG132","c":485,"y":38.2},{"s":"CHX + acrolein + MG132","c":495,"y":28.6},{"s":"CHX + acrolein + MG132","c":508,"y":20.1},{"s":"CHX + acrolein + MG132","c":521,"y":19.0},{"s":"CHX + acrolein + MG132","c":535,"y":15.9},{"s":"CHX + acrolein + MG132","c":548,"y":11.1},{"s":"CHX + acrolein + MG132","c":561,"y":9.5},{"s":"CHX + acrolein + MG132","c":575,"y":9.3},{"s":"CHX + acrolein + MG132","c":592,"y":10.5},{"s":"CHX + acrolein + MG132","c":616,"y":9.5},{"s":"CHX + acrolein + MG132","c":639,"y":6.8},{"s":"CHX + acrolein + MG132","c":663,"y":5.2},{"s":"CHX + acrolein + MG132","c":687,"y":4.7},{"s":"CHX + acrolein + MG132","c":710,"y":3.1},{"s":"CHX + acrolein + MG132","c":734,"y":2.0},{"s":"CHX + acrolein + MG132","c":766,"y":1.2},{"s":"CHX + acrolein + MG132","c":821,"y":1.0},{"s":"CHX + acrolein + MG132","c":852,"y":0.4},{"s":"CHX + acrolein + MG132","c":900,"y":0.1},{"s":"CHX + acrolein + MG132","c":1036,"y":0}
]
},
"spacing": 28,
"resolve": {"scale": {"color": "independent", "stroke": "independent"}, "legend": {"color": "independent", "stroke": "independent"}},
"hconcat": [
{
 "width": 518, "height": 332,
 "title": {"text": "Shcon", "offset": 9, "dx": -24},
 "data": {"name": "shcon"},
 "encoding": {
  "x": {"field": "c", "type": "quantitative", "scale": {"domain": [0, 1036], "nice": false, "zero": false},
   "axis": {"values": [2,16,26,34,48,61,72,82,94,100,108,132,142,154,166,178,186,196,209,285,329,361,385,405,422,437,449,461,533,575,604,627,646,662,676,688,699,769,810,839,861,880,895,909,920,931,1001],
    "labelExpr": "datum.value == 100 ? '0' : datum.value == 209 ? '10²' : datum.value == 461 ? '10³' : datum.value == 699 ? '10⁴' : datum.value == 931 ? '10⁵' : ''",
    "tickSize": {"condition": [{"test": "indexof([2,100,209,461,699,931], datum.value) >= 0", "value": 13}, {"test": "indexof([48,166,385,627,861], datum.value) >= 0", "value": 9}], "value": 6},
    "labelPadding": 14, "labelOverlap": false, "labelFlush": false, "labelBound": false,
    "title": ["DCF", "FITC-A"], "titleX": 277, "titleY": 58, "titleBaseline": "top", "titleLineHeight": 27}},
  "y": {"field": "y", "type": "quantitative", "scale": {"domain": [0, 105.7], "nice": false},
   "axis": {"values": [0,5,10,15,20,25,30,35,40,45,50,55,60,65,70,75,80,85,90,95,100,105],
    "labelExpr": "datum.value % 20 == 0 ? datum.label : ''",
    "tickSize": {"condition": {"test": "datum.value % 20 == 0", "value": 11}, "value": 6},
    "labelPadding": 7, "labelOverlap": false, "title": "Max (%)", "titlePadding": 11}}
 },
 "layer": [
  {"mark": {"type": "line", "strokeWidth": 1.5, "interpolate": "monotone", "clip": true},
   "encoding": {"stroke": {"field": "s", "type": "nominal",
     "scale": {"domain": ["MG132 + acroelin","Acrolein","CHX + acrolein","MG132","No dye","Con","CHX + acrolein + MG132"],
               "range": ["#336b2f","#8cc63f","#c49a94","#f7941d","#e9302f","#27b7e9","#7a3a96"]},
     "legend": null}}},
  {"transform": [{"filter": "false"}],
   "mark": {"type": "line"},
   "encoding": {"color": {"field": "s", "type": "nominal",
     "scale": {"domain": ["CHX + acrolein + MG132","CHX + acrolein","MG132 + acroelin","Acrolein","MG132","Con","No dye"],
               "range": ["#a84ea0","#f2a7c0","#167a72","#6cbd45","#f4b41a","#6fcadb","#ee2a2a"]},
     "legend": {"orient": "none", "legendX": 0, "legendY": 443, "columns": 2, "title": null, "symbolType": "stroke", "symbolSize": 1089, "symbolStrokeWidth": 3, "labelFontSize": 20, "labelOffset": 12, "columnPadding": 50, "rowPadding": -1, "padding": 0, "labelLimit": 400}}}}
 ]
},
{
 "width": 519, "height": 332,
 "title": {"text": "ShGADD34", "offset": 9, "dx": 28},
 "data": {"name": "shgadd34"},
 "encoding": {
  "x": {"field": "c", "type": "quantitative", "scale": {"domain": [0, 1036], "nice": false, "zero": false},
   "axis": {"values": [2,16,26,34,48,61,72,82,94,100,108,132,142,154,166,178,186,196,209,285,329,361,385,405,422,437,449,461,533,575,604,627,646,662,676,688,699,769,810,839,861,880,895,909,920,931,1001],
    "labelExpr": "datum.value == 100 ? '0' : datum.value == 209 ? '10²' : datum.value == 461 ? '10³' : datum.value == 699 ? '10⁴' : datum.value == 931 ? '10⁵' : ''",
    "tickSize": {"condition": [{"test": "indexof([2,100,209,461,699,931], datum.value) >= 0", "value": 13}, {"test": "indexof([48,166,385,627,861], datum.value) >= 0", "value": 9}], "value": 6},
    "labelPadding": 14, "labelOverlap": false, "labelFlush": false, "labelBound": false,
    "title": ["DCF", "FITC-A"], "titleX": 284, "titleY": 58, "titleBaseline": "top", "titleLineHeight": 27}},
  "y": {"field": "y", "type": "quantitative", "scale": {"domain": [0, 105.7], "nice": false},
   "axis": {"values": [0,5,10,15,20,25,30,35,40,45,50,55,60,65,70,75,80,85,90,95,100,105],
    "labelExpr": "datum.value % 20 == 0 ? datum.label : ''",
    "tickSize": {"condition": {"test": "datum.value % 20 == 0", "value": 11}, "value": 6},
    "labelPadding": 7, "labelOverlap": false, "title": "Max (%)", "titlePadding": 11}}
 },
 "layer": [
  {"mark": {"type": "line", "strokeWidth": 1.5, "interpolate": "monotone", "clip": true},
   "encoding": {"stroke": {"field": "s", "type": "nominal",
     "scale": {"domain": ["MG132 + acroelin","Acrolein","CHX + acrolein","MG132","No dye","Con","CHX + acrolein + MG132"],
               "range": ["#336b2f","#8cc63f","#c49a94","#f7941d","#e9302f","#27b7e9","#7a3a96"]},
     "legend": null}}},
  {"transform": [{"filter": "false"}],
   "mark": {"type": "line"},
   "encoding": {"color": {"field": "s", "type": "nominal",
     "scale": {"domain": ["CHX + acrolein + MG132","CHX + acrolein","MG132 + acroelin","Acrolein","MG132","Con","No dye"],
               "range": ["#a84ea0","#f2a7c0","#167a72","#6cbd45","#f4b41a","#6fcadb","#ee2a2a"]},
     "legend": {"orient": "none", "legendX": 0, "legendY": 443, "columns": 2, "title": null, "symbolType": "stroke", "symbolSize": 1089, "symbolStrokeWidth": 3, "labelFontSize": 20, "labelOffset": 12, "columnPadding": 50, "rowPadding": -1, "padding": 0, "labelLimit": 400}}}}
 ]
}
]
}
